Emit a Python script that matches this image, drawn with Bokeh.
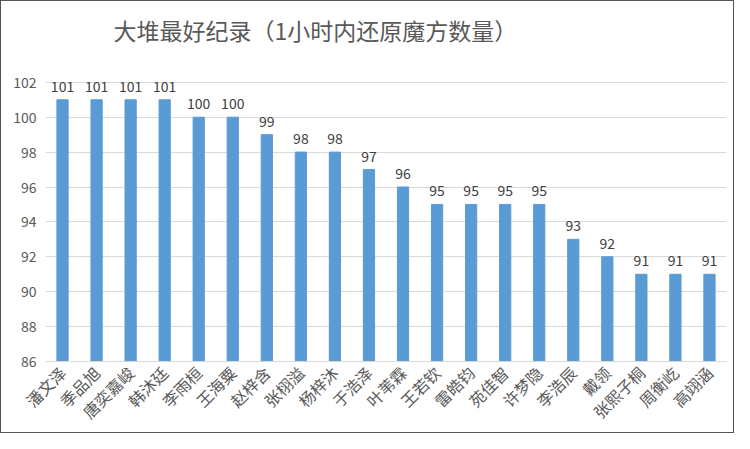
from bokeh.plotting import figure
from bokeh.models import FixedTicker
from bokeh.core.properties import value
from bokeh.embed import file_html
from bokeh.resources import INLINE
import math

names = ['潘文泽', '季品旭', '唐奕嘉峻', '韩沐廷', '李雨桓', '王海粟', '赵梓含', '张栩溢', '杨梓沐', '于浩泽',
         '叶苇霖', '王若钦', '雷皓钧', '苑佳智', '许梦隐', '李浩辰', '戴领', '张熙子桐', '周衡屹', '高翊涵']
counts = [101, 101, 101, 101, 100, 100, 99, 98, 98, 97,
          96, 95, 95, 95, 95, 93, 92, 91, 91, 91]
y_ticks = [86, 88, 90, 92, 94, 96, 98, 100, 102]
title = '大堆最好纪录（1小时内还原魔方数量）'

FONT = "Noto Sans CJK SC"

# the y range runs past the last tick so the title can sit inside the frame
p = figure(width=734, height=433, x_range=names, y_range=(86, 106),
           output_backend="svg", toolbar_location=None,
           min_border_left=44, min_border_right=9, min_border_top=11, min_border_bottom=72)
p.styles = {"border": "1px solid #555555"}
p.outline_line_color = None

# bars
p.vbar(x=names, top=counts, bottom=86, width=0.33, color="#5B9BD5")

# value labels on top
p.text(x=names, y=counts, text=[str(c) for c in counts], text_align="center", text_baseline="bottom",
       y_offset=-8, text_font=value(FONT), text_font_size="14px", text_color="#404040")

# title
p.text(x=[2.0], y=[105.0], text=[title], text_align="left", text_baseline="middle",
       text_font=value(FONT), text_font_size="23px", text_color="#595959")

p.yaxis.ticker = FixedTicker(ticks=y_ticks)
p.yaxis.axis_line_color = None
p.yaxis.major_tick_line_color = None
p.yaxis.minor_tick_line_color = None
p.yaxis.major_tick_out = 0
p.yaxis.major_label_standoff = 9
p.yaxis.major_label_text_font = FONT
p.yaxis.major_label_text_font_size = "14px"
p.yaxis.major_label_text_color = "#595959"

p.xaxis.axis_line_color = "#d9d9d9"
p.xaxis.major_tick_line_color = None
p.xaxis.major_tick_out = 0
p.xaxis.major_label_standoff = 8
p.xaxis.major_label_orientation = math.pi / 4
p.xaxis.major_label_text_font = FONT
p.xaxis.major_label_text_font_size = "16px"
p.xaxis.major_label_text_color = "#595959"

p.xgrid.grid_line_color = None
p.ygrid.grid_line_color = "#d9d9d9"

open("out.html", "w").write(file_html(p, INLINE))
